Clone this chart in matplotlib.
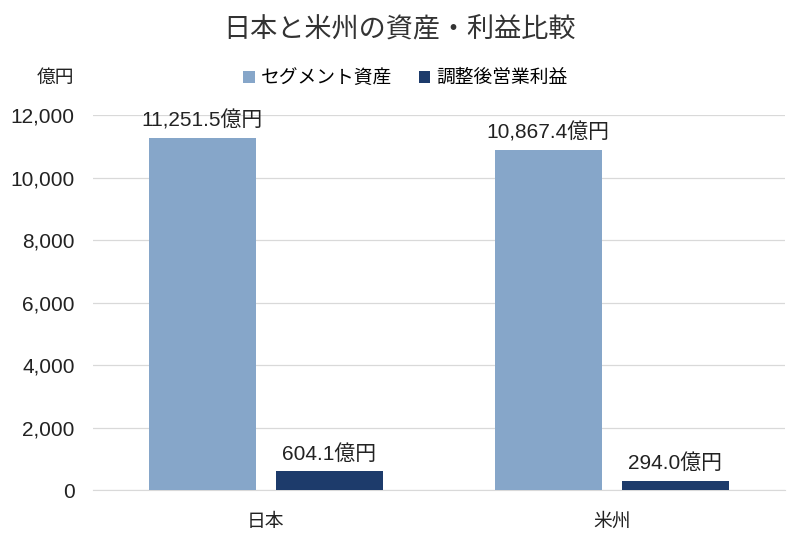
import matplotlib
matplotlib.use("Agg")
import matplotlib.pyplot as plt
import numpy as np

plt.rcParams['font.family'] = ['Liberation Sans', 'Noto Sans CJK JP']

regions = ["日本", "米州"]
segment_assets = [11251.5, 10867.4]
adj_profit = [604.1, 294.0]
series_names = ["セグメント資産", "調整後営業利益"]
yticks = [0, 2000, 4000, 6000, 8000, 10000, 12000]

c_light = "#86a6c9"
c_dark = "#1d3b6b"
txt = "#222222"

fig = plt.figure(figsize=(8, 5.36), dpi=100)
ax = fig.add_axes([0.116, 0.0858, 0.865, 0.6996])

x = np.arange(len(regions))
w = 0.31
off = 0.184
b1 = ax.bar(x - off, segment_assets, w, color=c_light, label=series_names[0], zorder=3)
b2 = ax.bar(x + off, adj_profit, w, color=c_dark, label=series_names[1], zorder=3)

for bars in (b1, b2):
    for rect in bars:
        h = rect.get_height()
        ax.text(rect.get_x() + rect.get_width() / 2, h + 240, f"{h:,.1f}億円",
                ha="center", va="bottom", fontsize=15, color=txt)

ax.set_xlim(-0.5, 1.5)
ax.set_ylim(0, 12000)
ax.set_yticks(yticks)
ax.set_yticklabels([f"{v:,}" for v in yticks], fontsize=15, color=txt)
ax.set_xticks(x)
ax.set_xticklabels(regions, fontsize=13.5, color=txt)
ax.tick_params(axis="y", length=0, pad=13)
ax.tick_params(axis="x", length=0, pad=17)
ax.grid(axis="y", color="#d9d9d9", linewidth=0.9, zorder=0)
for s in ["top", "right", "left"]:
    ax.spines[s].set_visible(False)
ax.spines["bottom"].set_color("#d9d9d9")

fig.text(0.5, 0.944, "日本と米州の資産・利益比較", ha="center", va="center",
         fontsize=19.5, color="#333333")
fig.text(0.069, 0.854, "億円", ha="center", va="center", fontsize=13.5, color=txt)
fig.legend(loc="center", bbox_to_anchor=(0.507, 0.854), ncol=2, frameon=False,
           fontsize=13.5, handlelength=0.6, handleheight=0.6, handletextpad=0.35,
           columnspacing=1.4)

fig.savefig("out.png", dpi=100)
